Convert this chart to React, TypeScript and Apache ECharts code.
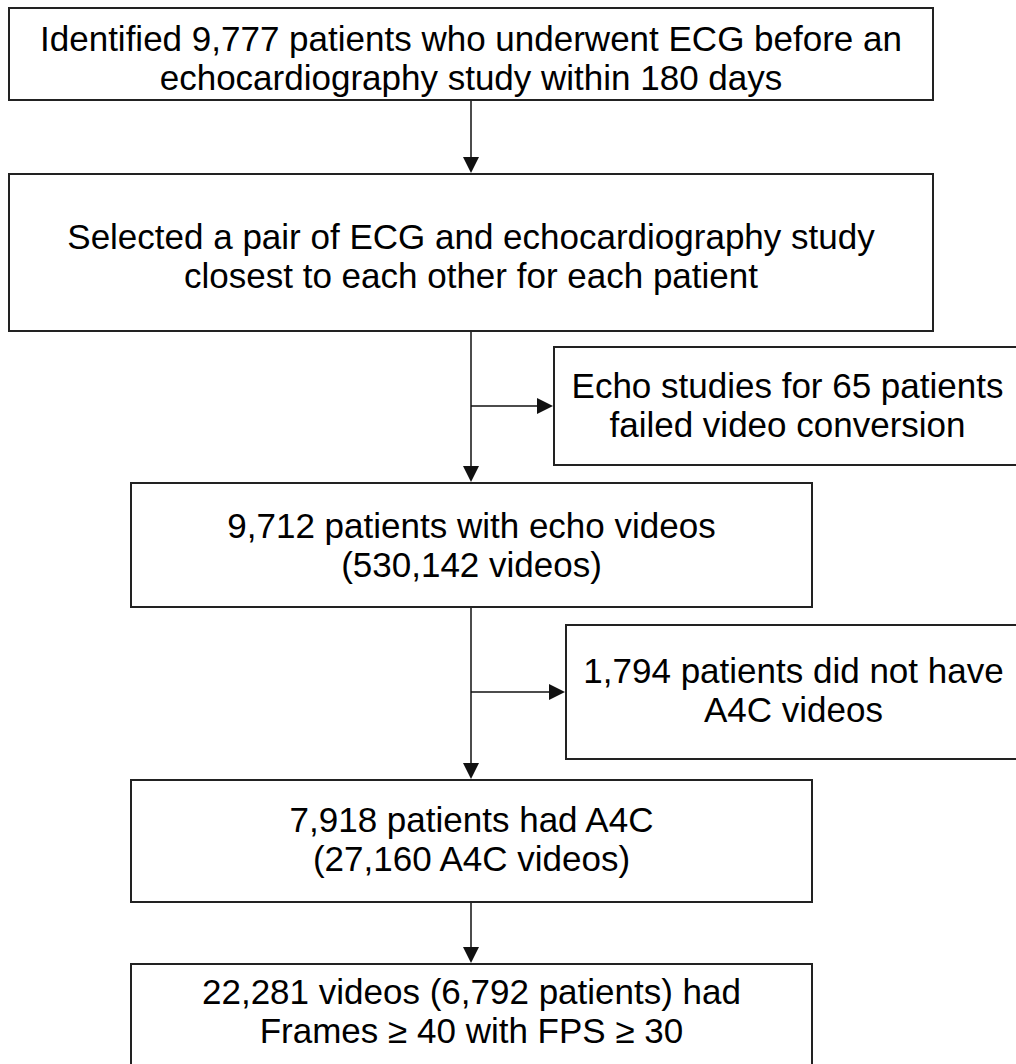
import React, { useEffect, useRef } from "react";
import * as echarts from "echarts";

// Flowchart content
const mainSteps: string[] = [
  "Identified 9,777 patients who underwent ECG before an\nechocardiography study within 180 days",
  "Selected a pair of ECG and echocardiography study\nclosest to each other for each patient",
  "9,712 patients with echo videos\n(530,142 videos)",
  "7,918 patients had A4C\n(27,160 A4C videos)",
  "22,281 videos (6,792 patients) had\nFrames \u2265 40 with FPS \u2265 30",
];
const exclusions: string[] = [
  "Echo studies for 65 patients\nfailed video conversion",
  "1,794 patients did not have\nA4C videos",
];

// Layout (pixels)
const mainBoxes = [
  { x0: 9, x1: 933, y0: 8, y1: 100, ty: 58 },
  { x0: 9, x1: 933, y0: 174, y1: 331, ty: 256 },
  { x0: 131, x1: 812, y0: 483, y1: 607, ty: 545 },
  { x0: 131, x1: 812, y0: 780, y1: 902, ty: 839 },
  { x0: 131, x1: 812, y0: 964, y1: 1075, ty: 1011 },
];
const sideBoxes = [
  { x0: 554, x1: 1021, y0: 347, y1: 465, ty: 405 },
  { x0: 566, x1: 1021, y0: 625, y1: 759, ty: 690 },
];
const spineX = 471;
const FONT = '35px "Liberation Sans", Arial, sans-serif';
const LINE_H = 39;
const INK = "#111";

function arrowHead(x: number, y: number, dir: "down" | "right") {
  const s = 8, l = 16;
  const pts =
    dir === "down"
      ? [[x - s, y - l], [x + s, y - l], [x, y]]
      : [[x - l, y - s], [x - l, y + s], [x, y]];
  return { type: "polygon", shape: { points: pts }, style: { fill: INK } };
}

export default function App() {
  const ref = useRef<HTMLDivElement>(null);
  useEffect(() => {
    document.body.style.margin = "0";
    const chart = echarts.init(ref.current!, undefined, { renderer: "svg" });
    const els: any[] = [];
    const addBox = (b: any, text: string) => {
      els.push({
        type: "rect",
        shape: { x: b.x0, y: b.y0, width: b.x1 - b.x0, height: b.y1 - b.y0 },
        style: { fill: "#fff", stroke: "#222", lineWidth: 2 },
      });
      els.push({
        type: "text",
        x: (b.x0 + b.x1) / 2,
        y: b.ty,
        style: {
          text,
          font: FONT,
          fill: "#000",
          align: "center",
          verticalAlign: "middle",
          lineHeight: LINE_H,
        },
      });
    };
    mainBoxes.forEach((b, i) => addBox(b, mainSteps[i]));
    sideBoxes.forEach((b, i) => addBox(b, exclusions[i]));
    // vertical connectors
    for (let i = 0; i < mainBoxes.length - 1; i++) {
      const y0 = mainBoxes[i].y1 + 1;
      const y1 = mainBoxes[i + 1].y0 - 1;
      els.push({
        type: "line",
        shape: { x1: spineX, y1: y0, x2: spineX, y2: y1 - 10 },
        style: { stroke: INK, lineWidth: 1.5 },
      });
      els.push(arrowHead(spineX, y1, "down"));
    }
    // horizontal branches
    sideBoxes.forEach((b) => {
      const y = (b.y0 + b.y1) / 2;
      els.push({
        type: "line",
        shape: { x1: spineX, y1: y, x2: b.x0 - 10, y2: y },
        style: { stroke: INK, lineWidth: 1.5 },
      });
      els.push(arrowHead(b.x0 - 1, y, "right"));
    });
    chart.setOption({
      animation: false,
      backgroundColor: "#fff",
      graphic: { elements: els },
    });
    return () => chart.dispose();
  }, []);
  return <div ref={ref} style={{ width: 1016, height: 1064 }} />;
}
